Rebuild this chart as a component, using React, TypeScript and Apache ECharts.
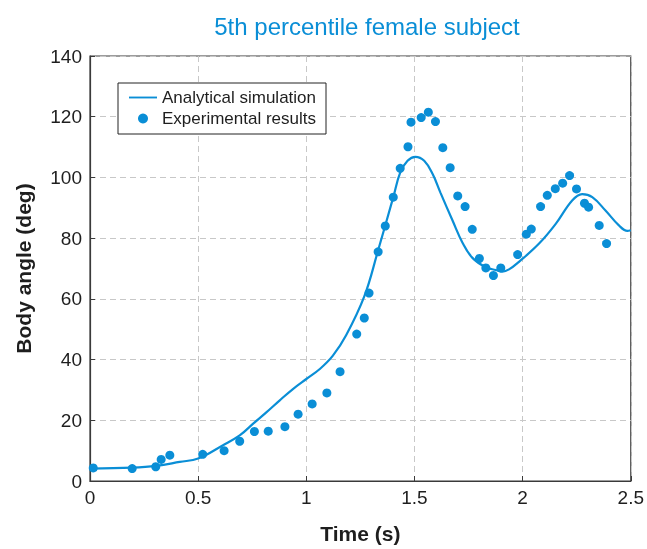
import React, { useEffect, useRef } from "react";
import * as echarts from "echarts";

const simTime = [0, 0.195, 0.307, 0.415, 0.5, 0.615, 0.692, 0.753, 0.815, 0.876, 0.938, 1.0, 1.061, 1.122, 1.184, 1.268, 1.33, 1.402, 1.434, 1.468, 1.504, 1.545, 1.584, 1.62, 1.676, 1.722, 1.768, 1.83, 1.876, 1.906, 1.937, 1.983, 2.076, 2.153, 2.229, 2.275, 2.322, 2.383, 2.445, 2.484, 2.5];
const simAngle = [4.1, 4.4, 5.0, 6.3, 7.4, 11.8, 15.0, 18.8, 22.6, 26.5, 30.3, 33.6, 36.8, 41.2, 48.0, 60.8, 75.5, 93.5, 101.6, 105.5, 106.8, 105.5, 101.1, 95.0, 85.8, 78.5, 73.5, 70.4, 69.5, 69.0, 69.7, 72.2, 78.2, 84.7, 92.4, 94.5, 93.5, 89.1, 84.2, 82.4, 82.6];

const expTime = [0.015, 0.195, 0.304, 0.329, 0.369, 0.521, 0.62, 0.692, 0.76, 0.824, 0.901, 0.962, 1.027, 1.095, 1.156, 1.233, 1.268, 1.29, 1.332, 1.365, 1.402, 1.434, 1.47, 1.484, 1.531, 1.564, 1.597, 1.631, 1.665, 1.7, 1.734, 1.767, 1.8, 1.83, 1.865, 1.899, 1.977, 2.017, 2.04, 2.083, 2.114, 2.151, 2.185, 2.217, 2.249, 2.286, 2.305, 2.354, 2.388];
const expAngle = [4.3, 4.1, 4.7, 7.1, 8.5, 8.8, 10.0, 13.1, 16.3, 16.4, 17.9, 22.0, 25.4, 29.0, 36.0, 48.4, 53.7, 61.9, 75.5, 84.0, 93.5, 103.0, 110.1, 118.2, 119.7, 121.5, 118.4, 109.8, 103.2, 93.9, 90.4, 82.9, 73.3, 70.2, 67.7, 70.2, 74.6, 81.3, 83.0, 90.4, 94.1, 96.3, 98.1, 100.6, 96.2, 91.5, 90.2, 84.2, 78.2];

const xTicks = ["0", "0.5", "1", "1.5", "2", "2.5"];

const BLUE = "#0a8ed6";
const FONT = "Liberation Sans, Arial, sans-serif";
const TEXT = "#1e1e1e";

export default function App() {
  const ref = useRef<HTMLDivElement>(null);
  useEffect(() => {
    if (!ref.current) return;
    const chart = echarts.init(ref.current, undefined, { renderer: "svg" });
    chart.setOption({
      animation: false,
      title: {
        text: "5th percentile female subject",
        left: 362,
        textAlign: "center",
        top: 9,
        textStyle: { color: BLUE, fontSize: 24, fontWeight: "normal", fontFamily: FONT },
      },
      legend: {
        orient: "vertical",
        left: 118,
        top: 83,
        backgroundColor: "#fff",
        borderColor: "#222",
        borderWidth: 1,
        padding: [6, 10, 7, 11],
        itemGap: 4,
        itemWidth: 28,
        itemHeight: 10,
        textStyle: { fontSize: 17, color: TEXT, fontFamily: FONT },
        data: [
          { name: "Analytical simulation", icon: "path://M0,4 L30,4 L30,6 L0,6 Z" },
          { name: "Experimental results", icon: "circle" },
        ],
      },
      grid: {
        left: 90,
        right: 14,
        top: 56,
        bottom: 63,
        show: true,
        borderColor: "#3a3a3a",
        borderWidth: 1.2,
      },
      xAxis: {
        type: "value",
        min: 0,
        max: 2.5,
        interval: 0.5,
        name: "Time (s)",
        nameLocation: "middle",
        nameGap: 42,
        nameTextStyle: { fontSize: 21, fontWeight: "bold", color: TEXT, fontFamily: FONT },
        axisLine: { show: true, lineStyle: { color: "#3a3a3a", width: 1.2 } },
        axisTick: { show: true, inside: true, length: 5, lineStyle: { color: "#3a3a3a" } },
        axisLabel: {
          fontSize: 19,
          color: TEXT,
          fontFamily: FONT,
          margin: 7,
          formatter: (v: number) => xTicks[Math.round(v / 0.5)] ?? String(v),
        },
        splitLine: { show: true, lineStyle: { color: "#c8c8c8", type: [6, 4] } },
      },
      yAxis: {
        type: "value",
        min: 0,
        max: 140,
        interval: 20,
        name: "Body angle (deg)",
        nameLocation: "middle",
        nameGap: 56,
        nameTextStyle: { fontSize: 21, fontWeight: "bold", color: TEXT, fontFamily: FONT },
        axisLine: { show: true, lineStyle: { color: "#3a3a3a", width: 1.2 } },
        axisTick: { show: true, inside: true, length: 5, lineStyle: { color: "#3a3a3a" } },
        axisLabel: { fontSize: 19, color: TEXT, fontFamily: FONT, margin: 8 },
        splitLine: { show: true, lineStyle: { color: "#c8c8c8", type: [6, 4] } },
      },
      series: [
        {
          name: "Analytical simulation",
          type: "line",
          smooth: 0.4,
          showSymbol: false,
          symbol: "none",
          lineStyle: { color: BLUE, width: 2.2 },
          itemStyle: { color: BLUE },
          data: simTime.map((t, i) => [t, simAngle[i]]),
          z: 2,
        },
        {
          name: "Experimental results",
          type: "scatter",
          symbol: "circle",
          symbolSize: 9,
          itemStyle: { color: BLUE, opacity: 1 },
          data: expTime.map((t, i) => [t, expAngle[i]]),
          z: 3,
        },
      ],
    });
    return () => chart.dispose();
  }, []);
  return (
    <div
      ref={ref}
      style={{ position: "fixed", left: 0, top: 0, width: 647, height: 549, overflow: "hidden" }}
    />
  );
}
